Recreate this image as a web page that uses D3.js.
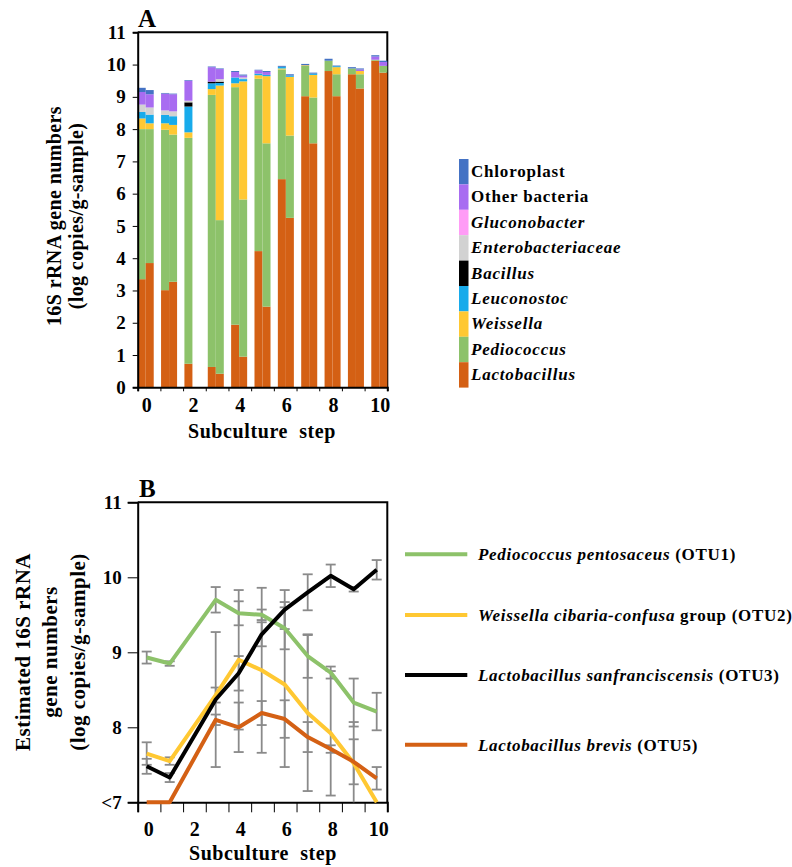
<!DOCTYPE html>
<html><head><meta charset="utf-8">
<script src="https://cdn.jsdelivr.net/npm/d3@7"></script>
<style>
body{margin:0;background:#fff;}
text{font-family:"Liberation Serif","Times New Roman",serif;font-weight:bold;fill:#000;}
</style></head>
<body><svg id="c" width="792" height="867"></svg>
<script>
// ---------- Panel A data ----------
const stepsA = [0,1,2,3,4,5,6,7,8,9,10];
const replicates = [0,1];
// cumulative top of each genus for each bar (step x replicate), null = absent
const genera = ["Lactobacillus","Pediococcus","Weissella","Leuconostoc","Bacillus","Enterobacteriaceae","Gluconobacter","Other bacteria","Chloroplast"];
const italicGenera = [true,true,true,true,true,true,true,false,false];
const topLactobacillus = [3.35,3.85, 3.01,3.27, 0.73,null, 0.63,0.42, 1.94,0.95, 4.22,2.50, 6.45,5.25, 9.02,7.56, 9.80,9.02, 9.70,9.26, 10.12,9.75];
const topPediococcus   = [8.00,8.00, 7.98,7.83, 7.73,null, 9.06,5.18, 9.30,5.82, 9.56,7.56, 9.85,7.80, 9.96,8.98, 10.12,9.70, 9.88,9.70, 10.15,9.96];
const topWeissella     = [8.33,8.18, 8.18,8.13, 7.90,null, 9.24,9.35, 9.42,9.48, 9.67,9.64, 9.88,9.62, 9.98,9.68, null,9.92, null,9.80, null,null];
const topLeuconostoc   = [8.53,8.45, 8.44,8.40, 8.70,null, 9.42,9.43, 9.60,9.55, 9.72,9.68, 9.93,9.66, null,9.72, null,9.95, null,null, null,null];
const topBacillus      = [null,null, null,null, 8.83,null, 9.47,9.47, null,null, null,null, null,null, null,null, null,null, null,null, null,null];
const topEnterobact    = [8.76,8.67, 8.58,8.55, 8.88,null, null,9.55, null,9.60, null,null, null,null, null,null, null,null, null,null, null,null];
const topGluconobacter = [null,null, null,null, null,null, null,null, null,null, null,null, null,null, null,null, null,null, null,null, null,null];
const topOther         = [9.15,9.08, 9.10,9.08, 9.50,null, 9.92,9.86, 9.77,9.66, 9.82,9.77, null,null, null,null, null,null, null,9.85, 10.25,10.08];
const topChloroplast   = [9.28,9.21, 9.12,9.10, 9.52,null, 9.94,9.88, 9.80,9.69, 9.84,9.80, 9.96,9.70, 10.02,9.75, 10.18,9.97, 9.92,9.88, 10.29,10.12];
const topsA = [topLactobacillus,topPediococcus,topWeissella,topLeuconostoc,topBacillus,topEnterobact,topGluconobacter,topOther,topChloroplast];
const colorsA = ["#D46014","#8DC26A","#FFC832","#18ABEB","#000000","#D2D2D2","#FF9CF6","#A86CF1","#4472C4"];
const yTicksA = [0,1,2,3,4,5,6,7,8,9,10,11];
const xLabelsA = [0,2,4,6,8,10];

// ---------- Panel B data ----------
const stepsB = [0,1,3,4,5,6,7,8,9,10];
const seriesB = ["Pediococcus pentosaceus","Weissella cibaria-confusa","Lactobacillus sanfranciscensis","Lactobacillus brevis"];
const suffixB = [" (OTU1)"," group (OTU2)"," (OTU3)"," (OTU5)"];
const colorsB = ["#8DC26A","#FFC832","#000000","#D46014"];
const otu1 = [8.93,8.85,9.70,9.52,9.50,9.32,8.95,8.73,8.33,8.21];
const otu2 = [7.65,7.55,8.43,8.90,8.76,8.57,8.19,7.92,7.52,7.00];
const otu3 = [7.48,7.33,8.37,8.72,9.24,9.57,9.80,10.02,9.84,10.10];
const otu5 = [7.00,7.00,8.10,8.00,8.19,8.11,7.87,7.71,7.54,7.32];
const sd1 = [0.08,0.03,0.17,0.16,0.07,0.28,0.29,0.08,0.32,0.25];
const sd2 = [0.15,0.05,0.10,0.93,1.10,1.10,1.04,0.83,0.55,0];
const sd3 = [0.10,0.06,0.90,0.23,0.16,0.26,0.24,0.15,0.03,0.13];
const sd5 = [0,0,0.07,0.33,0.16,0.25,0.20,0.05,0.30,0.15];
const valuesB = [otu1,otu2,otu3,otu5];
const sdsB = [sd1,sd2,sd3,sd5];
const yTicksB = [7,8,9,10,11];
const xLabelsB = [0,2,4,6,8,10];

const svg = d3.select("#c");

// ================= Panel A =================
const L = 137.7, R = 387.3;
const yA = d3.scaleLinear().domain([0,11]).range([387.3,32.3]);
const xStep = d3.scaleBand().domain(stepsA).range([L,R]).paddingInner(0.314).paddingOuter(0);
const xRep = d3.scaleBand().domain(replicates).range([0,xStep.bandwidth()]);
const tickA = d3.scaleLinear().domain([0,11]).range([L,R]);

const gA = svg.append("g");
gA.append("path").attr("d",`M${L},${yA(11)}H${R}V${yA(0)}`).attr("fill","none").attr("stroke","#000").attr("stroke-width",2);

const bars = gA.append("g");
stepsA.forEach((s,si)=>{
  replicates.forEach(r=>{
    const j = si*2 + r;
    let prev = 0;
    topsA.forEach((arr,gi)=>{
      const t = arr[j];
      if(t==null) return;
      bars.append("rect")
        .attr("x", xStep(s)+xRep(r))
        .attr("width", xRep.bandwidth())
        .attr("y", yA(t))
        .attr("height", Math.max(0,yA(prev)-yA(t)))
        .attr("fill", colorsA[gi]);
      prev = t;
    });
  });
});

const axA = gA.append("g").attr("transform",`translate(${L},0)`)
  .call(d3.axisLeft(yA).tickValues(yTicksA).tickSize(5).tickPadding(7));
axA.select(".domain").attr("stroke-width",2);
axA.selectAll("text").style("font-size","19px").attr("font-family",null);
const bxA = gA.append("g").attr("transform",`translate(0,${yA(0)})`)
  .call(d3.axisBottom(tickA).tickValues(d3.range(0,12)).tickSize(4).tickFormat(""));
bxA.select(".domain").attr("stroke-width",2);
gA.append("g").selectAll("text").data(xLabelsA).join("text")
  .attr("x", d=>xStep(d)+xStep.bandwidth()/2+1)
  .attr("y", 412).attr("text-anchor","middle").style("font-size","20px").text(d=>d);
gA.append("text").attr("x",262).attr("y",438).attr("text-anchor","middle").style("font-size","20px")
  .style("letter-spacing","0.6px").attr("xml:space","preserve").text("Subculture  step");
gA.append("text").attr("x",138).attr("y",27).style("font-size","25px").text("A");
const ytA = gA.append("g").attr("transform","translate(61,216) rotate(-90)");
ytA.append("text").attr("text-anchor","middle").style("font-size","20px").style("letter-spacing","0.4px").text("16S rRNA gene numbers");
ytA.append("text").attr("text-anchor","middle").attr("y",22).style("font-size","20px").style("letter-spacing","0.4px").text("(log copies/g-sample)");

const legA = gA.append("g");
const legOrder = d3.range(genera.length).reverse();
legOrder.forEach((gi,k)=>{
  const y0 = 159 + k*25.4;
  legA.append("rect").attr("x",459).attr("y",y0).attr("width",9.5).attr("height",25.4).attr("fill",colorsA[gi]);
  legA.append("text").attr("x",471).attr("y",y0+18).style("font-size","17px").style("letter-spacing","0.8px")
    .style("font-style", italicGenera[gi]?"italic":"normal").text(genera[gi]);
});

// ================= Panel B =================
const yB = d3.scaleLinear().domain([7,11]).range([802.3,502.3]);
const xB = d3.scaleLinear().domain([0,10]).range([146.7,376.7]);
const tickB = d3.scaleLinear().domain([0,11]).range([L,R]);
const gB = svg.append("g");
gB.append("path").attr("d",`M${L},${yB(11)}H${R}V${yB(7)}`).attr("fill","none").attr("stroke","#000").attr("stroke-width",2);

const ayB = gB.append("g").attr("transform",`translate(${L},0)`)
  .call(d3.axisLeft(yB).tickValues(yTicksB).tickSize(10).tickPadding(6).tickFormat(d=>d===7?"<7":d));
ayB.select(".domain").attr("stroke-width",2);
ayB.selectAll("text").style("font-size","19px").attr("font-family",null);
const bxB = gB.append("g").attr("transform",`translate(0,${yB(7)})`)
  .call(d3.axisBottom(tickB).tickValues(d3.range(0,12)).tickSize(10).tickFormat(""));
bxB.select(".domain").attr("stroke-width",2);
gB.append("g").selectAll("text").data(xLabelsB).join("text")
  .attr("x", d=>xB(d)+2).attr("y",836).attr("text-anchor","middle").style("font-size","20px").text(d=>d);
gB.append("text").attr("x",263).attr("y",860).attr("text-anchor","middle").style("font-size","20px")
  .style("letter-spacing","0.6px").attr("xml:space","preserve").text("Subculture  step");
gB.append("text").attr("x",139).attr("y",497).style("font-size","25px").text("B");
const ytB = gB.append("g").attr("transform","translate(30,652) rotate(-90)");
ytB.append("text").attr("text-anchor","middle").style("font-size","21px").style("letter-spacing","0.5px").text("Estimated 16S rRNA");
ytB.append("text").attr("text-anchor","middle").attr("y",27).style("font-size","21px").style("letter-spacing","0.5px").text("gene numbers");
ytB.append("text").attr("text-anchor","middle").attr("y",55).style("font-size","21px").style("letter-spacing","0.5px").text("(log copies/g-sample)");

const eb = gB.append("g").attr("stroke","#8a8a8a").attr("stroke-width",1.8);
valuesB.forEach((vals,si)=>{
  vals.forEach((v,i)=>{
    const sd = sdsB[si][i];
    if(!sd) return;
    const x = xB(stepsB[i]);
    const hi = v+sd, lo = Math.max(7,v-sd);
    eb.append("line").attr("x1",x).attr("x2",x).attr("y1",yB(hi)).attr("y2",yB(lo));
    eb.append("line").attr("x1",x-5).attr("x2",x+5).attr("y1",yB(hi)).attr("y2",yB(hi));
    if(v-sd>7) eb.append("line").attr("x1",x-5).attr("x2",x+5).attr("y1",yB(lo)).attr("y2",yB(lo));
  });
});
const line = d3.line().x((d,i)=>xB(stepsB[i])).y(d=>yB(d));
const drawOrder = [0,1,3,2];
drawOrder.forEach(si=>{
  gB.append("path").datum(valuesB[si]).attr("d",line).attr("fill","none")
    .attr("stroke",colorsB[si]).attr("stroke-width",4).attr("stroke-linejoin","round");
});
const legY = [554.3,615,675,744.7];
seriesB.forEach((name,si)=>{
  gB.append("line").attr("x1",405).attr("x2",467.3).attr("y1",legY[si]).attr("y2",legY[si])
    .attr("stroke",colorsB[si]).attr("stroke-width",4);
  const t = gB.append("text").attr("x",478).attr("y",legY[si]+6).style("font-size","17px").style("letter-spacing","0.7px");
  t.append("tspan").style("font-style","italic").text(name);
  t.append("tspan").text(suffixB[si]);
});
</script></body></html>
